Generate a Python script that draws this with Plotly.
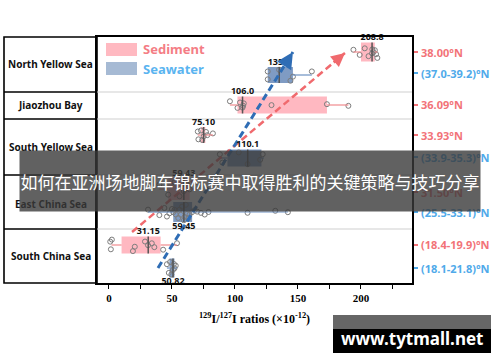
import plotly.graph_objects as go

# ------------------------------------------------------------------ data
table_rows = ["South China Sea", "East China Sea", "South Yellow Sea", "Jiaozhou Bay", "North Yellow Sea"]

# Sediment (bottom -> top): SCS, ECS, SYS, JB, NYS
sed_q1 = [10, 47, 73, 102, 200]
sed_median = [31.15, 59.43, 75.10, 106.0, 208.8]
sed_q3 = [41, 64, 76.5, 173, 211]
sed_low = [2, 40, 70.5, 96, 194]
sed_high = [54, 70, 82.5, 190, 213]
sed_median_text = ["31.15", "59.43", "75.10", "106.0", "208.8"]
sed_lat_text = ["(18.4-19.9)°N", "31.50°N", "33.93°N", "36.09°N", "38.00°N"]
sed_points = [
    [1, 1.5, 2.3, 19, 20.5, 28.6, 31, 34, 36, 43, 54],
    [40, 47, 52, 56, 59.4, 62, 64, 70],
    [70.5, 71, 73, 74, 75.1, 77, 78, 82.5],
    [96, 102, 104, 106, 106.5, 107, 129, 173, 190],
    [194, 199, 203, 206, 208.8, 209, 210, 211, 212, 213],
]

# Seawater (bottom -> top): SCS, ECS, SYS, NYS
sw_q1 = [48, 51, 94, 126]
sw_median = [50.82, 59.45, 110.1, 135.1]
sw_q3 = [52, 66, 121, 146]
sw_low = [46, 31, 88, 126]
sw_high = [54, 142, 123, 161]
sw_median_text = ["50.82", "59.45", "110.1", "135.1"]
sw_lat_text = ["(18.1-21.8)°N", "(25.5-33.1)°N", "(33.9-35.3)°N", "(37.0-39.2)°N"]
sw_points = [
    [46, 47.5, 48.5, 49.5, 50.8, 51.5, 52, 53],
    [31, 40, 44, 46, 48, 50, 51, 52, 53, 55, 56, 57, 58, 59.45, 60, 61, 62,
     63, 64, 66, 68, 70, 73, 76, 79, 110, 132, 142],
    [88, 90, 103, 110, 120, 122],
    [126, 126, 135, 144, 146, 161],
]

# trend arrows (x values)
red_trend_x = [18.3, 187.3]
blue_trend_x = [38.9, 146.0]

x_tick_vals = [0, 50, 100, 150, 200]

# ------------------------------------------------------------------ layout geometry (pixels)
WIDTH, HEIGHT = 500, 362
L, R, T, B = 97, 412, 37, 283
PW, PH = R - L, B - T
XMIN, XMAX = -9.5, 240.5

row_edges_px = [283, 229, 175, 119, 92, 37]
row_label_px = [256, 204, 147, 105, 64]
sed_center_px = [245, 189, 135, 105, 52]
sed_thick_px = [17, 22, 16, 17, 19]
sed_lat_px = [245, 192, 135, 105, 52]
sw_center_px = [268, 212, 158, 75]
sw_thick_px = [19, 20, 17, 16]
sw_lat_px = [268, 212, 157, 73]
sw_label_below = [True, True, False, False]
red_trend_px = [232, 53]
blue_trend_px = [268, 52]


def ydat(py):
    return B - py


def xpaper(px):
    return (px - L) / PW


def ypaper(py):
    return (B - py) / PH


RED = "#F27378"
BLUE = "#4FAAEA"
SED_FILL = "rgba(255,172,182,0.85)"
SW_FILL = "rgba(104,138,185,0.85)"
SED_LINE = "#F08A8E"
SW_LINE = "#6C90C2"
POINT_C = "#7d7d7d"
SANS = "Noto Sans"
SERIF = "Liberation Serif"

fig = go.Figure()


def add_group(q1, med, q3, lo, hi, centers, thick, fill, wcol, pts):
    ys = [ydat(c) for c in centers]
    fig.add_trace(go.Bar(orientation="h", y=ys, x=[b - a for a, b in zip(q1, q3)], base=q1,
                         width=thick, marker=dict(color=fill, line=dict(width=0)),
                         showlegend=False, hoverinfo="skip"))
    wx, wy = [], []
    for a, b, c, d, y in zip(lo, q1, q3, hi, ys):
        wx += [a, b, None, c, d, None]
        wy += [y, y, None, y, y, None]
    fig.add_trace(go.Scatter(x=wx, y=wy, mode="lines", line=dict(color=wcol, width=1.2),
                             showlegend=False, hoverinfo="skip"))
    mx, my = [], []
    for m, y, t in zip(med, ys, thick):
        mx += [m, m, None]
        my += [y - t / 2, y + t / 2, None]
    fig.add_trace(go.Scatter(x=mx, y=my, mode="lines", line=dict(color="#555555", width=1.5),
                             showlegend=False, hoverinfo="skip"))
    for p, y, t in zip(pts, ys, thick):
        fig.add_trace(go.Box(x=p, y=[y] * len(p), orientation="h", width=t,
                             boxpoints="all", jitter=0.85, pointpos=0,
                             line=dict(color="rgba(0,0,0,0)", width=0),
                             fillcolor="rgba(0,0,0,0)",
                             marker=dict(symbol="circle-open", size=5, color=POINT_C,
                                         line=dict(width=1)),
                             showlegend=False, hoverinfo="skip"))


add_group(sed_q1, sed_median, sed_q3, sed_low, sed_high, sed_center_px, sed_thick_px,
          SED_FILL, SED_LINE, sed_points)
add_group(sw_q1, sw_median, sw_q3, sw_low, sw_high, sw_center_px, sw_thick_px,
          SW_FILL, SW_LINE, sw_points)

# trend dashed lines
fig.add_trace(go.Scatter(x=red_trend_x, y=[ydat(v) for v in red_trend_px], mode="lines",
                         line=dict(color="#F06A6E", width=2.5, dash="7px,4px"),
                         showlegend=False, hoverinfo="skip"))
fig.add_trace(go.Scatter(x=blue_trend_x, y=[ydat(v) for v in blue_trend_px], mode="lines",
                         line=dict(color="#2F6DB5", width=3, dash="7px,4px"),
                         showlegend=False, hoverinfo="skip"))

# median labels
lab_x, lab_y, lab_t, lab_pos = [], [], [], []
for m, c, t, s in zip(sed_median, sed_center_px, sed_thick_px, sed_median_text):
    lab_x.append(m); lab_y.append(ydat(c - t / 2)); lab_t.append(s); lab_pos.append("top center")
for m, c, t, s, below in zip(sw_median, sw_center_px, sw_thick_px, sw_median_text, sw_label_below):
    lab_x.append(m)
    lab_y.append(ydat(c + t / 2) if below else ydat(c - t / 2))
    lab_t.append(s)
    lab_pos.append("bottom center" if below else "top center")
fig.add_trace(go.Scatter(x=lab_x, y=lab_y, text=lab_t, mode="text", textposition=lab_pos,
                         textfont=dict(family=SANS, size=9, color="#111111", weight="bold"),
                         cliponaxis=False, showlegend=False, hoverinfo="skip"))

shapes = []
annotations = []

# table
tx0, tx1 = xpaper(4), xpaper(L)
shapes.append(dict(type="rect", xref="paper", yref="paper", x0=tx0, x1=tx1, y0=0, y1=1,
                   line=dict(color="black", width=1.6), layer="below"))
for e in row_edges_px[1:-1]:
    shapes.append(dict(type="line", xref="paper", yref="paper", x0=tx0, x1=tx1,
                       y0=ypaper(e), y1=ypaper(e), line=dict(color="black", width=1.4), layer="below"))
    shapes.append(dict(type="line", xref="paper", yref="paper", x0=0, x1=1,
                       y0=ypaper(e), y1=ypaper(e), line=dict(color="#cfcfcf", width=1), layer="below"))
for name, py in zip(table_rows, row_label_px):
    annotations.append(dict(xref="paper", yref="paper", x=xpaper(50.5), y=ypaper(py), text=name,
                            showarrow=False, xanchor="center", yanchor="middle",
                            font=dict(family=SANS, size=10, color="#111111", weight="bold")))

# latitude labels with tick dashes
lat_t = sed_lat_text + sw_lat_text
lat_py = sed_lat_px + sw_lat_px
lat_c = [RED] * len(sed_lat_text) + [BLUE] * len(sw_lat_text)
for txt, py, col in zip(lat_t, lat_py, lat_c):
    shapes.append(dict(type="line", xref="paper", yref="paper", x0=xpaper(412), x1=xpaper(418),
                       y0=ypaper(py), y1=ypaper(py), line=dict(color=col, width=2), layer="below"))
    annotations.append(dict(xref="paper", yref="paper", x=xpaper(419), y=ypaper(py), text=txt,
                            showarrow=False, xanchor="left", yanchor="middle",
                            font=dict(family=SANS, size=11, color=col, weight="bold")))

# legend
shapes.append(dict(type="rect", xref="paper", yref="paper", x0=xpaper(106), x1=xpaper(137),
                   y0=ypaper(56), y1=ypaper(43), fillcolor="#FFB9C1", line=dict(width=0), layer="below"))
shapes.append(dict(type="rect", xref="paper", yref="paper", x0=xpaper(106), x1=xpaper(137),
                   y0=ypaper(75), y1=ypaper(62), fillcolor="#A6BAD4", line=dict(width=0), layer="below"))
annotations.append(dict(xref="paper", yref="paper", x=xpaper(141), y=ypaper(49), text="Sediment",
                        showarrow=False, xanchor="left", yanchor="middle",
                        font=dict(family=SANS, size=13, color="#F47D85", weight="bold")))
annotations.append(dict(xref="paper", yref="paper", x=xpaper(141), y=ypaper(69), text="Seawater",
                        showarrow=False, xanchor="left", yanchor="middle",
                        font=dict(family=SANS, size=13, color="#5AB4F0", weight="bold")))

# arrow heads
for xs, pys, col, w in [(red_trend_x, red_trend_px, "#F06A6E", 2.5),
                        (blue_trend_x, blue_trend_px, "#2F6DB5", 3)]:
    ys = [ydat(v) for v in pys]
    tail_x = xs[1] - 0.06 * (xs[1] - xs[0])
    tail_y = ys[1] - 0.06 * (ys[1] - ys[0])
    annotations.append(dict(x=xs[1], y=ys[1], ax=tail_x, ay=tail_y, xref="x", yref="y",
                            axref="x", ayref="y", text="", showarrow=True, arrowhead=2,
                            arrowsize=1.1, arrowwidth=w, arrowcolor=col))

# overlay banner (drawn last among annotations so it covers the ones underneath)
annotations.append(dict(xref="paper", yref="paper", x=xpaper(250), y=ypaper(181),
                        text="如何在亚洲场地脚车锦标赛中取得胜利的关键策略与技巧分享",
                        showarrow=False, xanchor="center", yanchor="middle",
                        width=460, height=60, borderpad=0, align="center", valign="middle",
                        bgcolor="rgba(58,58,58,0.80)",
                        font=dict(family="Noto Sans CJK SC", size=17, color="white")))

# watermark
shapes.append(dict(type="rect", xref="paper", yref="paper", x0=xpaper(333), x1=xpaper(491),
                   y0=ypaper(329), y1=ypaper(315), fillcolor="#666666", line=dict(width=0), layer="above"))
shapes.append(dict(type="rect", xref="paper", yref="paper", x0=xpaper(333), x1=xpaper(491),
                   y0=ypaper(353), y1=ypaper(329), fillcolor="#000000", line=dict(width=0), layer="above"))
annotations.append(dict(xref="paper", yref="paper", x=xpaper(412), y=ypaper(338),
                        text="www.tytmall.net", showarrow=False, xanchor="center", yanchor="middle",
                        font=dict(family=SANS, size=17, color="white", weight="bold")))

fig.update_layout(
    width=WIDTH, height=HEIGHT,
    margin=dict(l=L, r=WIDTH - R, t=T, b=HEIGHT - B, pad=0),
    paper_bgcolor="white", plot_bgcolor="white",
    barmode="overlay", boxmode="overlay",
    showlegend=False,
    shapes=shapes, annotations=annotations,
    xaxis=dict(range=[XMIN, XMAX], tickvals=x_tick_vals, ticks="outside", ticklen=4,
               tickcolor="black", showgrid=False, zeroline=False,
               showline=True, linecolor="black", linewidth=1.5, mirror=True,
               minor=dict(dtick=25, tick0=0, ticks="outside", ticklen=4, tickcolor="black"),
               tickfont=dict(family=SERIF, size=11, color="black", weight="bold"),
               title=dict(text="<sup>129</sup>I/<sup>127</sup>I ratios (×10<sup>-12</sup>)",
                          font=dict(family=SERIF, size=12, color="black", weight="bold"),
                          standoff=12)),
    yaxis=dict(range=[0, PH], showticklabels=False, ticks="", showgrid=False, zeroline=False,
               showline=True, linecolor="black", linewidth=1.5, mirror=True, fixedrange=True),
)

fig.write_html("out.html", config={"displayModeBar": False},
               post_script="document.body.style.margin='0px';")
